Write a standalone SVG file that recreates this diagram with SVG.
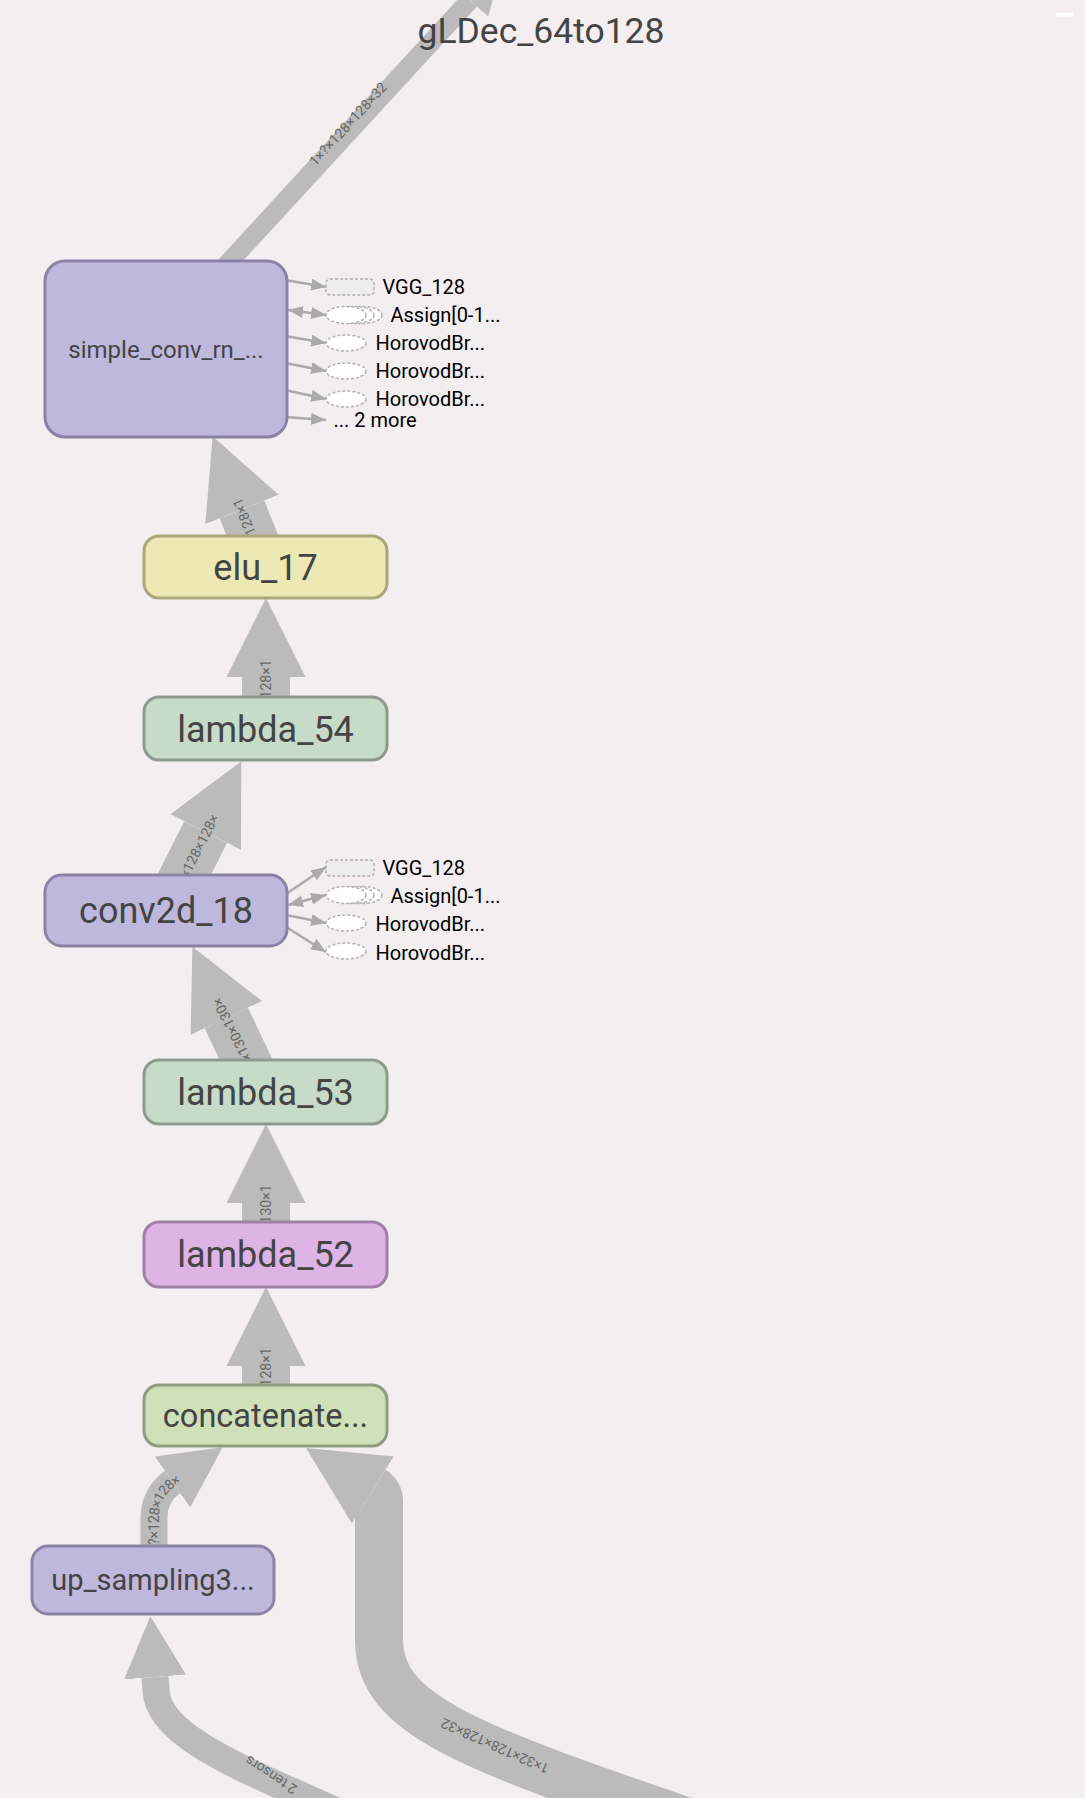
<svg xmlns="http://www.w3.org/2000/svg" width="1085" height="1798" viewBox="0 0 1085 1798">
<defs>
<style>
.edge{fill:none;stroke:#bbbbbb;stroke-linecap:butt}
.ref{fill:none;stroke:#aaaaaa;stroke-width:2.5}
.nl{font-family:Roboto,'Liberation Sans',sans-serif;fill:#444444;text-anchor:middle}
.el{font-family:Roboto,'Liberation Sans',sans-serif;font-size:14px;fill:#666666;text-anchor:middle;dominant-baseline:central}
.elp{font-family:Roboto,'Liberation Sans',sans-serif;font-size:14px;fill:#666666}
.aux{font-family:Roboto,'Liberation Sans',sans-serif;font-size:20px;fill:#000000}
.dash{stroke:#b0b0b0;stroke-width:1.5;stroke-dasharray:3 2}
.op{fill:#bfb8dd;stroke:#8b83a5;stroke-width:3}
.elu{fill:#ede9b4;stroke:#aaa77a;stroke-width:3}
.lam{fill:#c6dcc9;stroke:#8c9b8e;stroke-width:3}
.lam52{fill:#ddb4e4;stroke:#a080a5;stroke-width:3}
.cat{fill:#d0e1b9;stroke:#8e9d80;stroke-width:3}
</style>
<marker id="hBig" markerUnits="userSpaceOnUse" markerWidth="79" markerHeight="79" viewBox="0 0 10 10" refX="0" refY="5" orient="auto" preserveAspectRatio="none"><path d="M0,0 L10,5 L0,10 z" fill="#bbbbbb"/></marker>
<marker id="hMid" markerUnits="userSpaceOnUse" markerWidth="61" markerHeight="62" viewBox="0 0 10 10" refX="0" refY="5" orient="auto" preserveAspectRatio="none"><path d="M0,0 L10,5 L0,10 z" fill="#bbbbbb"/></marker>
<marker id="hTop" markerUnits="userSpaceOnUse" markerWidth="49" markerHeight="49" viewBox="0 0 10 10" refX="0" refY="5" orient="auto" preserveAspectRatio="none"><path d="M0,0 L10,5 L0,10 z" fill="#bbbbbb"/></marker>
<marker id="hSm" markerUnits="userSpaceOnUse" markerWidth="15" markerHeight="12" viewBox="0 0 10 10" refX="10" refY="5" orient="auto-start-reverse" preserveAspectRatio="none"><path d="M0,0 L10,5 L0,10 z" fill="#aaaaaa"/></marker>
<path id="upPath" d="M154,1545 L154,1517 A43 43 0 0 1 172.5,1482 L200,1463"/>
</defs>
<rect x="0" y="0" width="1085" height="1798" fill="#f3eef0"/>
<rect x="1056" y="12.5" width="17.5" height="4" fill="#ffffff"/>

<g id="connectors">
<path class="edge" stroke-width="19" d="M218,274 Q315,168 470,0" marker-end="url(#hTop)"/>
<path class="edge" stroke-width="48" d="M259,552 L242,509.5" marker-end="url(#hBig)"/>
<path class="edge" stroke-width="48" d="M266,720 L266,677" marker-end="url(#hBig)"/>
<path class="edge" stroke-width="48" d="M178,887 L205.7,832" marker-end="url(#hBig)"/>
<path class="edge" stroke-width="48" d="M251,1070 L226.3,1018" marker-end="url(#hBig)"/>
<path class="edge" stroke-width="48" d="M266,1240 L266,1203" marker-end="url(#hBig)"/>
<path class="edge" stroke-width="48" d="M266,1400 L266,1366" marker-end="url(#hBig)"/>
<path class="edge" stroke-width="27" d="M154,1560 L154,1517 A43 43 0 0 1 172.5,1482" marker-end="url(#hMid)"/>
<path class="edge" stroke-width="27" d="M345,1815 C260,1775 157,1740 156,1690 L155,1677" marker-end="url(#hMid)"/>
<path class="edge" stroke-width="48" d="M740,1840 C480,1750 379,1720 379,1640 L379,1501 A13 13 0 0 0 372.9,1490" marker-end="url(#hBig)"/>

<text class="el" transform="translate(348,124) rotate(-47.6)">1×?×128×128×32</text>
<text class="el" transform="translate(244,517) rotate(-112)">128×1</text>
<text class="el" transform="translate(266,679) rotate(-90)">128×1</text>
<text class="el" transform="translate(199,846) rotate(-63)">×128×128×</text>
<text class="el" transform="translate(232,1030) rotate(-117)">×130×130×</text>
<text class="el" transform="translate(266,1204) rotate(-90)">130×1</text>
<text class="el" transform="translate(266,1367) rotate(-90)">128×1</text>
<text class="elp" dy="0.35em"><textPath href="#upPath">?×128×128×</textPath></text>
<text class="el" transform="translate(271,1775) rotate(-147)">2 tensors</text>
<text class="el" transform="translate(495,1746) rotate(-156)">1×32×128×128×32</text>

<path class="ref" d="M285,280 L326,287" marker-end="url(#hSm)"/>
<path class="ref" d="M288,310 L326,315" marker-start="url(#hSm)" marker-end="url(#hSm)"/>
<path class="ref" d="M285,336 L326,343" marker-end="url(#hSm)"/>
<path class="ref" d="M285,363 L326,371" marker-end="url(#hSm)"/>
<path class="ref" d="M285,390 L326,399" marker-end="url(#hSm)"/>
<path class="ref" d="M285,417 L326,420" marker-end="url(#hSm)"/>

<path class="ref" d="M286,894 L326,867" marker-end="url(#hSm)"/>
<path class="ref" d="M288,905 L326,895" marker-start="url(#hSm)" marker-end="url(#hSm)"/>
<path class="ref" d="M286,915 L326,923" marker-end="url(#hSm)"/>
<path class="ref" d="M286,927 L326,952" marker-end="url(#hSm)"/>
</g>

<text class="nl" x="541" y="42.5" font-size="35.5">gLDec_64to128</text>

<g id="simple_conv_rn">
<rect class="op" x="45" y="261" width="242" height="176" rx="20"/>
<text class="nl" x="166" y="358" font-size="24">simple_conv_rn_...</text>
</g>
<g id="simple_conv_rn_aux">
<rect class="dash" x="326" y="279" width="48" height="16" rx="4" fill="#eeeeee"/>
<text class="aux" x="382.5" y="294">VGG_128</text>
<ellipse class="dash" cx="362" cy="315" rx="20" ry="8.5" fill="#ffffff"/>
<ellipse class="dash" cx="354" cy="315" rx="20" ry="8.5" fill="#ffffff"/>
<ellipse class="dash" cx="346" cy="315" rx="20" ry="8.5" fill="#ffffff"/>
<text class="aux" x="390.5" y="322">Assign[0-1...</text>
<ellipse class="dash" cx="346" cy="343" rx="20" ry="8" fill="#ffffff"/>
<text class="aux" x="375.5" y="349.5">HorovodBr...</text>
<ellipse class="dash" cx="346" cy="371" rx="20" ry="8" fill="#ffffff"/>
<text class="aux" x="375.5" y="377.5">HorovodBr...</text>
<ellipse class="dash" cx="346" cy="399" rx="20" ry="8" fill="#ffffff"/>
<text class="aux" x="375.5" y="405.5">HorovodBr...</text>
<text class="aux" x="333.5" y="427">... 2 more</text>
</g>

<g id="elu_17">
<rect class="elu" x="144" y="536" width="243" height="62" rx="15"/>
<text class="nl" x="265.5" y="580" font-size="36">elu_17</text>
</g>
<g id="lambda_54">
<rect class="lam" x="144" y="697" width="243" height="63" rx="15"/>
<text class="nl" x="265.5" y="741.5" font-size="36">lambda_54</text>
</g>
<g id="conv2d_18">
<rect class="op" x="45" y="875" width="242" height="71" rx="17"/>
<text class="nl" x="166" y="923" font-size="36">conv2d_18</text>
</g>
<g id="conv2d_18_aux">
<rect class="dash" x="326" y="860" width="48" height="16" rx="4" fill="#eeeeee"/>
<text class="aux" x="382.5" y="875">VGG_128</text>
<ellipse class="dash" cx="362" cy="895" rx="20" ry="8.5" fill="#ffffff"/>
<ellipse class="dash" cx="354" cy="895" rx="20" ry="8.5" fill="#ffffff"/>
<ellipse class="dash" cx="346" cy="895" rx="20" ry="8.5" fill="#ffffff"/>
<text class="aux" x="390.5" y="903">Assign[0-1...</text>
<ellipse class="dash" cx="346" cy="923" rx="20" ry="8" fill="#ffffff"/>
<text class="aux" x="375.5" y="931">HorovodBr...</text>
<ellipse class="dash" cx="346" cy="951" rx="20" ry="8" fill="#ffffff"/>
<text class="aux" x="375.5" y="959.5">HorovodBr...</text>
</g>
<g id="lambda_53">
<rect class="lam" x="144" y="1060" width="243" height="64" rx="15"/>
<text class="nl" x="265.5" y="1104.5" font-size="36">lambda_53</text>
</g>
<g id="lambda_52">
<rect class="lam52" x="144" y="1222" width="243" height="65" rx="15"/>
<text class="nl" x="265.5" y="1267" font-size="36">lambda_52</text>
</g>
<g id="concatenate">
<rect class="cat" x="144" y="1385" width="243" height="61" rx="15"/>
<text class="nl" x="265.5" y="1427" font-size="32.5">concatenate...</text>
</g>
<g id="up_sampling3">
<rect class="op" x="32" y="1546" width="242" height="68" rx="16"/>
<text class="nl" x="153" y="1590" font-size="29">up_sampling3...</text>
</g>
</svg>
